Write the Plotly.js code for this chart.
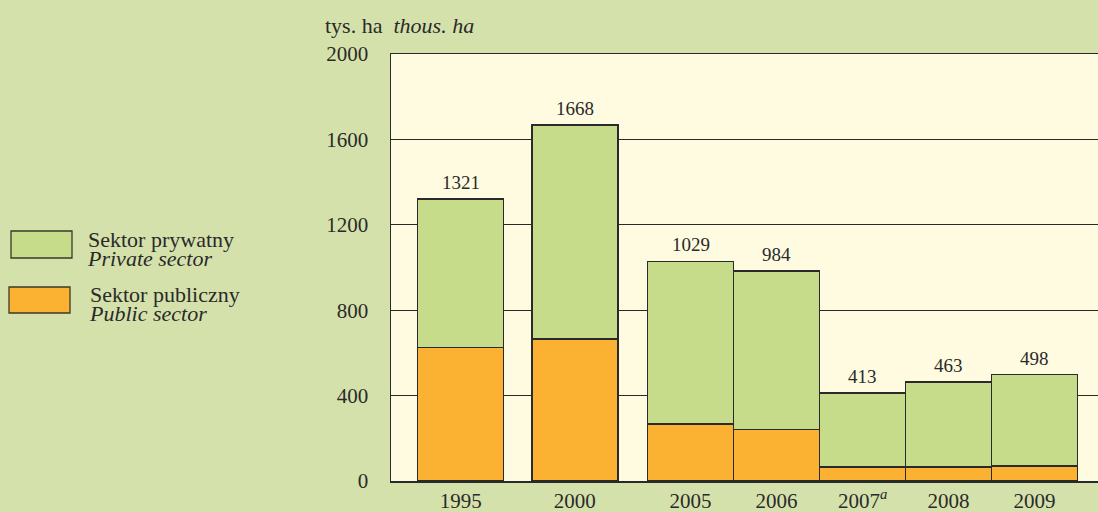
<!DOCTYPE html>
<html>
<head>
<meta charset="utf-8">
<script src="https://cdn.plot.ly/plotly-3.0.1.min.js"></script>
<style>html,body{margin:0;padding:0;background:#d5e1aa;}#chart{width:1098px;height:512px;}</style>
</head>
<body>
<div id="chart"></div>
<script>
// Data
const years = ["1995", "2000", "2005", "2006", "2007", "2008", "2009"];
const yearLabels = ["1995", "2000", "2005", "2006", "2007<sup><i>a</i></sup>", "2008", "2009"];
const totals = [1321, 1668, 1029, 984, 413, 463, 498];
const publicSector = [625, 666, 267, 241, 67, 67, 70];
const privateSector = totals.map((t, i) => t - publicSector[i]);
const yTicks = [0, 400, 800, 1200, 1600, 2000];

// Layout helpers: slot positions (gap between first groups, adjacent after 2005)
const gaps = [0, 1.326, 1.348, 1, 1, 1, 1];
const pos = [];
gaps.reduce((acc, g, i) => { pos[i] = acc + g; return pos[i]; }, 0);

const serif = "Liberation Serif";
const dark = "#2a2a2a";

const traces = [
  {type: "bar", x: pos, y: publicSector, width: 1, name: "Public",
   marker: {color: "#fbb232", line: {color: dark, width: 1.6}}, hoverinfo: "skip"},
  {type: "bar", x: pos, y: privateSector, width: 1, name: "Private",
   marker: {color: "#c7dc8b", line: {color: dark, width: 1.6}}, hoverinfo: "skip"}
];

const annotations = totals.map((t, i) => ({
  x: pos[i], y: t, xref: "x", yref: "y", text: String(t), showarrow: false,
  yanchor: "bottom", yshift: 4, font: {family: serif, size: 19, color: dark}
}));

// Header unit labels
annotations.push({xref: "paper", yref: "paper", x: -0.0955, y: 1.0, yshift: 14, xanchor: "left", yanchor: "bottom",
  text: "tys. ha&nbsp;&nbsp;<i>thous. ha</i>", showarrow: false, font: {family: serif, size: 22, color: dark}});

// Legend (custom)
const legendItems = [
  {color: "#c7dc8b", pl: "Sektor prywatny", en: "Private sector", y0: 231, y1: 258, x0: 11, x1: 72, tx: 86, ty1: 239, ty2: 258},
  {color: "#fbb232", pl: "Sektor publiczny", en: "Public sector", y0: 287, y1: 313, x0: 9, x1: 70, tx: 88, ty1: 294, ty2: 313}
];
const shapes = [];
const W = 1098, H = 512, ml = 391, mt = 54, mb = 31, mr = 0;
const pw = W - ml - mr, ph = H - mt - mb;
const px2x = px => (px - ml) / pw;
const py2y = py => 1 - (py - mt) / ph;
legendItems.forEach(it => {
  shapes.push({type: "rect", xref: "paper", yref: "paper",
    x0: px2x(it.x0), x1: px2x(it.x1), y0: py2y(it.y1), y1: py2y(it.y0),
    fillcolor: it.color, line: {color: "#3a3a2a", width: 1.3}});
  annotations.push({xref: "paper", yref: "paper", x: px2x(it.tx), y: py2y(it.ty1),
    xanchor: "left", yanchor: "middle", showarrow: false, text: it.pl,
    font: {family: serif, size: 22, color: dark}});
  annotations.push({xref: "paper", yref: "paper", x: px2x(it.tx - 1), y: py2y(it.ty2),
    xanchor: "left", yanchor: "middle", showarrow: false, text: "<i>" + it.en + "</i>",
    font: {family: serif, size: 22, color: dark}});
});

const layout = {
  width: W, height: H,
  margin: {l: ml, r: mr, t: mt, b: mb, pad: 0},
  paper_bgcolor: "#d5e1aa", plot_bgcolor: "#fefbe0",
  font: {family: serif, color: dark},
  barmode: "stack", bargap: 0, showlegend: false,
  xaxis: {range: [-0.81, -0.81 + pw / 86], tickvals: pos, ticktext: yearLabels,
    showgrid: false, zeroline: false, showline: true, mirror: true, linecolor: dark, linewidth: 1.5,
    ticks: "", tickfont: {family: serif, size: 21, color: dark}, ticklabelstandoff: 0},
  yaxis: {range: [0, 2000], tickvals: yTicks, ticktext: yTicks.map(String),
    showgrid: true, gridcolor: dark, gridwidth: 1.2, zeroline: false,
    showline: true, linecolor: dark, linewidth: 1.5, ticks: "",
    tickfont: {family: serif, size: 21, color: dark}, ticklabelstandoff: 17},
  shapes: shapes, annotations: annotations
};

Plotly.newPlot("chart", traces, layout, {staticPlot: true, displayModeBar: false});
</script>
</body>
</html>
